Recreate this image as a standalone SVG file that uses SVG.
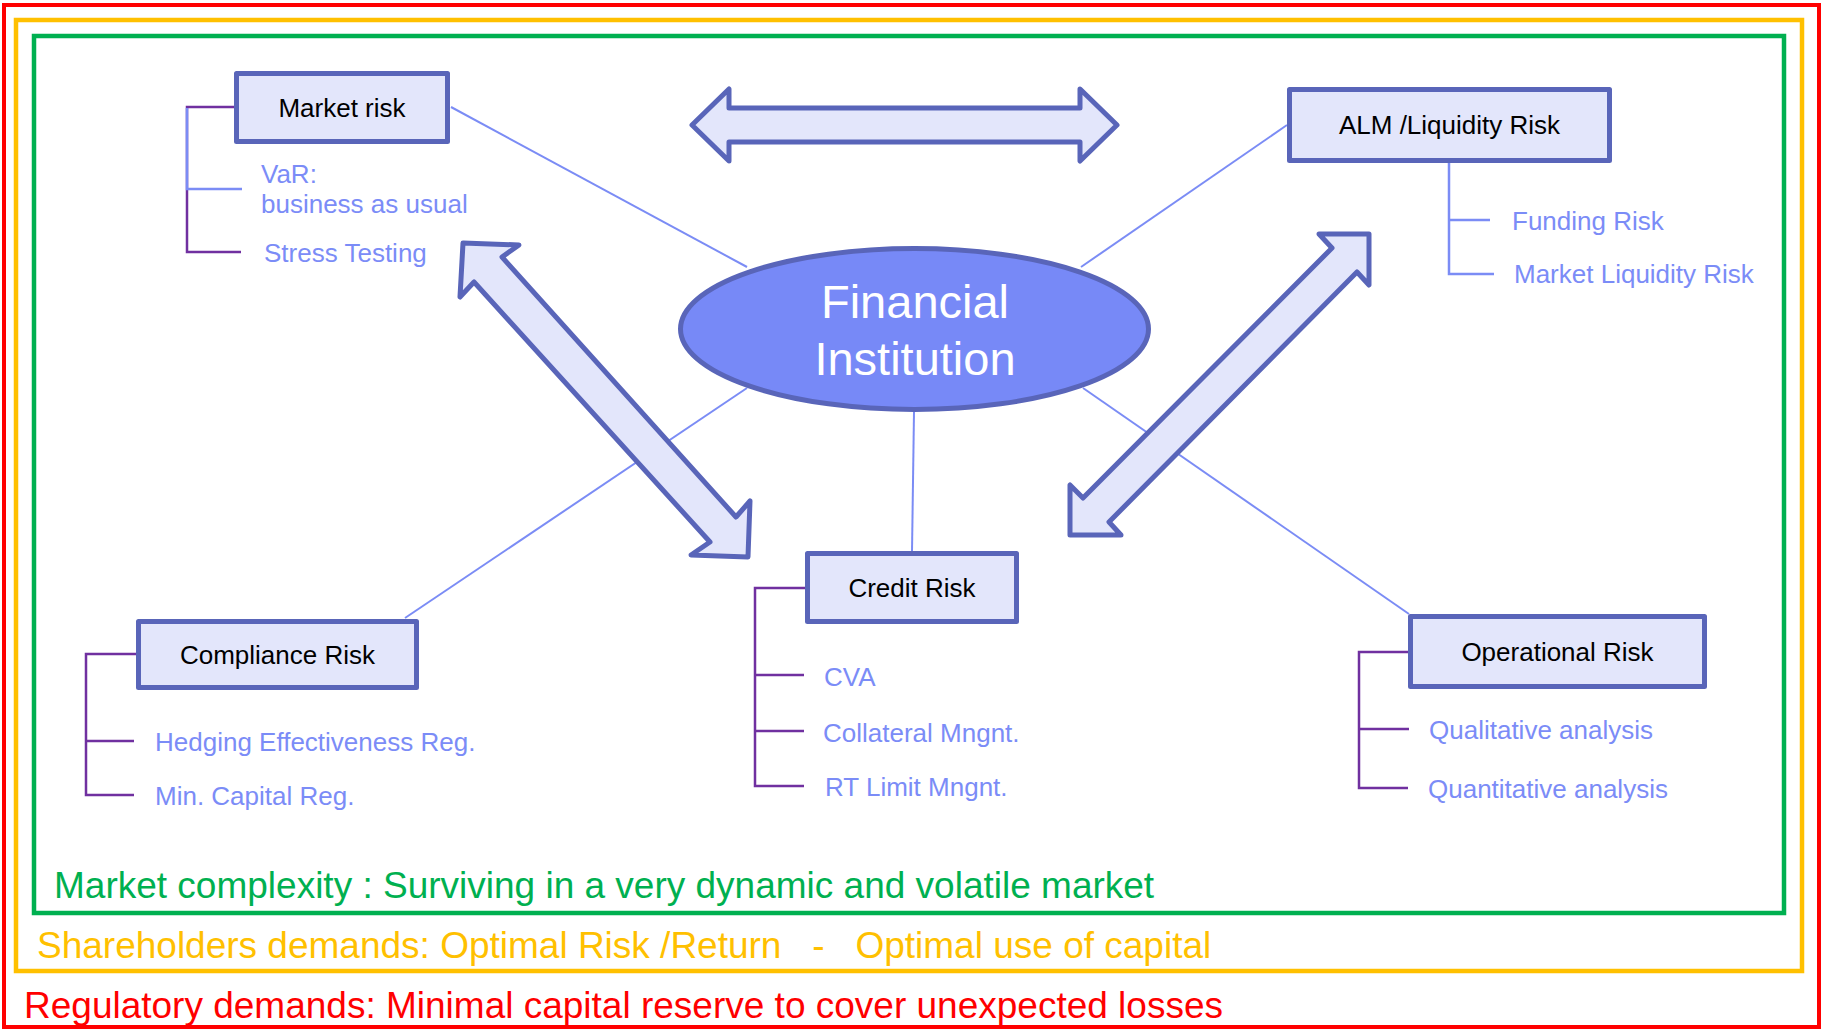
<svg xmlns="http://www.w3.org/2000/svg" width="1824" height="1030" viewBox="0 0 1824 1030">
<style>
.box{fill:#E3E6FB;stroke:#5965B9;stroke-width:5;stroke-linejoin:round}
.barrow{fill:#E3E6FB;stroke:#5965B9;stroke-width:5;stroke-linejoin:round}
.lbl{font-family:"Liberation Sans",Arial,sans-serif;font-size:26px;fill:#000;text-anchor:middle}
.sub{font-family:"Liberation Sans",Arial,sans-serif;font-size:26px;fill:#7B8CF7}
.con{stroke:#7B8CF5;stroke-width:2;fill:none}
.br{stroke:#7030A0;stroke-width:2.5;fill:none}
.brb{stroke:#7B8CF5;stroke-width:2.5;fill:none}
.big{font-family:"Liberation Sans",Arial,sans-serif;font-size:37px}
</style>
<rect width="1824" height="1030" fill="#fff"/>
<g id="frames">
<rect x="4" y="5" width="1815" height="1022" fill="none" stroke="#FF0000" stroke-width="4"/>
<rect x="16" y="20" width="1786" height="951" fill="none" stroke="#FFC000" stroke-width="4.5"/>
<rect x="34" y="36" width="1750" height="877" fill="none" stroke="#00B050" stroke-width="4.5"/>
<text class="big" x="54" y="898" fill="#00B050">Market complexity : Surviving in a very dynamic and volatile market</text>
<text class="big" x="37" y="958" fill="#FFC000" xml:space="preserve">Shareholders demands: Optimal Risk /Return   -   Optimal use of capital</text>
<text class="big" x="24" y="1018" fill="#FF0000">Regulatory demands: Minimal capital reserve to cover unexpected losses</text>
</g>
<g id="connectors">
<line class="con" x1="451" y1="107" x2="747" y2="267"/>
<line class="con" x1="1287" y1="125" x2="1081" y2="267"/>
<line class="con" x1="747" y1="388" x2="405" y2="618"/>
<line class="con" x1="914" y1="412" x2="912" y2="552"/>
<line class="con" x1="1083" y1="388" x2="1409" y2="614"/>
<path class="br" d="M234,107 H187 V252 H241"/>
<path class="brb" d="M187,108 V189 H242"/>
<path class="brb" d="M1449,163 V274 H1494 M1449,220 H1490"/>
<path class="br" d="M805,588 H755 V786 H804 M755,675 H804 M755,731 H804"/>
<path class="br" d="M136,654 H86 V795 H134 M86,741 H134"/>
<path class="br" d="M1408,652 H1359 V788 H1408 M1359,729 H1409"/>
</g>
<g id="arrows">
<polygon class="barrow" points="692,125 729,89 729,108 1080,108 1080,89 1117,125 1080,161 1080,142 729,142 729,161"/>
<polygon class="barrow" points="463,243 519,245 502,257 736,517 750,501 748,557 691,555 710,542 474,282 460,297"/>
<polygon class="barrow" points="1369,234 1319,234 1332,248 1083,498 1070,485 1070,535 1121,535 1109,522 1357,272 1369,285"/>
</g>
<g id="financial-institution">
<ellipse cx="914.5" cy="329" rx="234" ry="80.5" fill="#7789F7" stroke="#5965B9" stroke-width="5"/>
<text x="915" y="318" font-family="Liberation Sans,Arial,sans-serif" font-size="47" fill="#fff" text-anchor="middle">Financial</text>
<text x="915" y="375" font-family="Liberation Sans,Arial,sans-serif" font-size="47" fill="#fff" text-anchor="middle">Institution</text>
</g>
<g id="market-risk">
<rect class="box" x="236.5" y="73.5" width="211" height="68"/>
<text class="lbl" x="342" y="117">Market risk</text>
<text class="sub" x="261" y="183">VaR:</text>
<text class="sub" x="261" y="213">business as usual</text>
<text class="sub" x="264" y="262">Stress Testing</text>
</g>
<g id="alm-liquidity-risk">
<rect class="box" x="1289.5" y="89.5" width="320" height="71"/>
<text class="lbl" x="1449.5" y="134">ALM /Liquidity Risk</text>
<text class="sub" x="1512" y="230">Funding Risk</text>
<text class="sub" x="1514" y="283">Market Liquidity Risk</text>
</g>
<g id="credit-risk">
<rect class="box" x="807.5" y="553.5" width="209" height="68"/>
<text class="lbl" x="912" y="597">Credit Risk</text>
<text class="sub" x="824" y="686">CVA</text>
<text class="sub" x="823" y="742">Collateral Mngnt.</text>
<text class="sub" x="825" y="796">RT Limit Mngnt.</text>
</g>
<g id="compliance-risk">
<rect class="box" x="138.5" y="621.5" width="278" height="66"/>
<text class="lbl" x="277.5" y="664">Compliance Risk</text>
<text class="sub" x="155" y="751">Hedging Effectiveness Reg.</text>
<text class="sub" x="155" y="805">Min. Capital Reg.</text>
</g>
<g id="operational-risk">
<rect class="box" x="1410.5" y="616.5" width="294" height="70"/>
<text class="lbl" x="1557.5" y="661">Operational Risk</text>
<text class="sub" x="1429" y="739">Qualitative analysis</text>
<text class="sub" x="1428" y="798">Quantitative analysis</text>
</g>
</svg>
